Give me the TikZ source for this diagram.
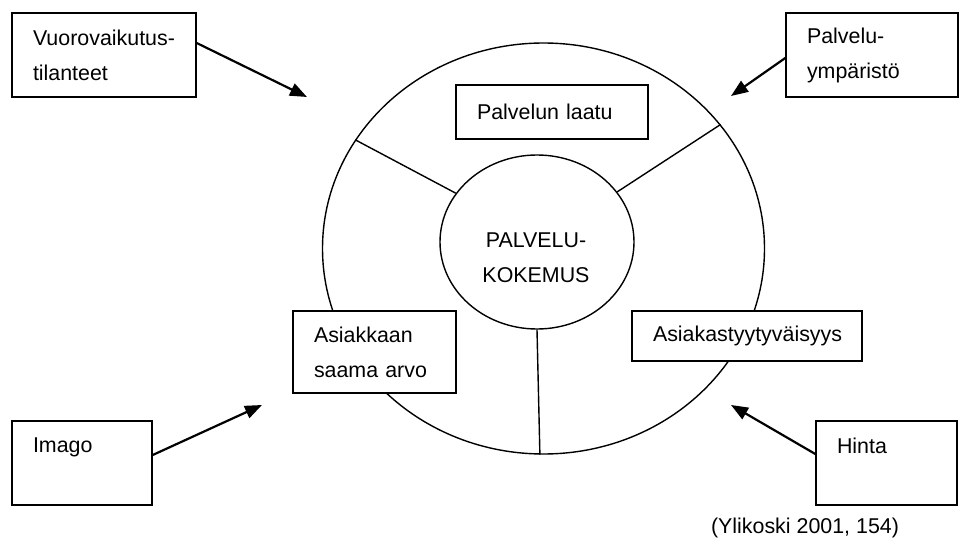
\documentclass[tikz,border=0pt]{standalone}
\usepackage{fontspec}
\setmainfont{Liberation Sans}
\usepackage{tikz}
\usetikzlibrary{shapes.geometric,arrows.meta}

\begin{document}
\begin{tikzpicture}[
    x=0.5pt, y=-0.5pt,
    font={\fontsize{10.7}{17.5}\selectfont},
    box/.style={rectangle, draw, line width=0.7pt, fill=white, align=left, inner xsep=10.5pt},
    ring/.style={ellipse, draw, line width=0.7pt, inner sep=0pt},
    spoke/.style={line width=0.7pt},
    arrow/.style={-{Triangle[length=8.5pt,width=6.5pt]}, line width=1.1pt}
]
    \useasboundingbox (0,0) rectangle (959,540);

    % the two rings
    \node[ring, minimum width=221pt, minimum height=205.5pt] (outer) at (543.5,248.5) {};
    \node[ring, minimum width=97pt, minimum height=87pt] (inner) at (537,242) {};
    \node[align=center] (kokemus) at (536,258) {PALVELU-\\KOKEMUS};

    \draw[spoke] (inner.149) -- (outer.150);
    \draw[spoke] (inner.32) -- (outer.35);
    \draw[spoke] (inner.270) -- (outer.269);

    % boxes on the ring
    \node[box, text width=75pt, minimum height=27pt] (laatu) at (552,112) {Palvelun laatu};
    \node[box, text width=60.5pt, minimum height=41pt] (arvo) at (374.5,352) {Asiakkaan\\saama arvo};
    \node[box, text width=94pt, minimum height=25pt, align=center] (tyyt) at (747,336) {Asiakastyytyväisyys};

    % outside factors
    \node[box, text width=71pt, minimum height=42pt] (vuoro) at (104,55) {Vuorovaikutus-\\tilanteet};
    \node[box, text width=65pt, minimum height=42pt] (ymp) at (872,55) {Palvelu-\\ympäristö};
    \node[box, text width=49pt, minimum height=42pt] (imago) at (82,463) {Imago\\\mbox{}};
    \node[box, text width=49.5pt, minimum height=42pt] (hinta) at (886.5,463) {Hinta\\\mbox{}};

    \coordinate (tipvuoro) at (307,97);
    \coordinate (tipymp) at (731,96);
    \coordinate (tipimago) at (262,405);
    \coordinate (tiphinta) at (731,405);

    \draw[arrow] ([yshift=6pt]vuoro.east) -- (tipvuoro);
    \draw[arrow] ([yshift=-1.5pt]ymp.west) -- (tipymp);
    \draw[arrow] ([yshift=4pt]imago.east) -- (tipimago);
    \draw[arrow] ([yshift=4.5pt]hinta.west) -- (tiphinta);

    \node (lahde) at (805,528) {(Ylikoski 2001, 154)};
\end{tikzpicture}
\end{document}
